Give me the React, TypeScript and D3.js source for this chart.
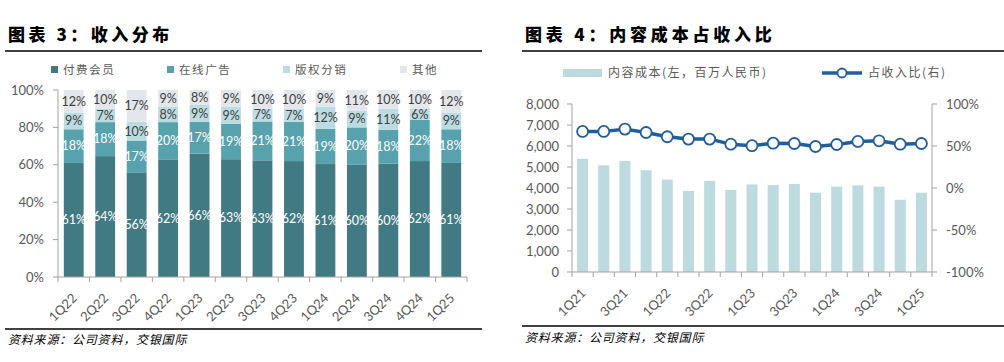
import React from "react";
import * as d3 from "d3";

// 图表3 收入分布
const quartersL = ["1Q22", "2Q22", "3Q22", "4Q22", "1Q23", "2Q23", "3Q23", "4Q23", "1Q24", "2Q24", "3Q24", "4Q24", "1Q25"];
const paidMember = [61, 64, 56, 62, 66, 63, 63, 62, 61, 60, 60, 62, 61];
const onlineAds = [18, 18, 17, 20, 17, 19, 21, 21, 19, 20, 18, 22, 18];
const copyright = [9, 7, 10, 8, 9, 9, 7, 7, 12, 9, 11, 6, 9];
const others = [12, 10, 17, 9, 8, 9, 10, 10, 9, 11, 10, 10, 12];
const seriesNamesL = ["付费会员", "在线广告", "版权分销", "其他"];
const pctTicks = [0, 0.2, 0.4, 0.6, 0.8, 1];

// 图表4 内容成本占收入比
const quartersR = ["1Q21", "2Q21", "3Q21", "4Q21", "1Q22", "2Q22", "3Q22", "4Q22", "1Q23", "2Q23", "3Q23", "4Q23", "1Q24", "2Q24", "3Q24", "4Q24", "1Q25"];
const contentCost = [5390, 5080, 5290, 4845, 4400, 3860, 4335, 3905, 4170, 4145, 4190, 3775, 4065, 4125, 4065, 3440, 3775];
const costRatio = [67.3, 67.3, 70.1, 66.1, 61.0, 58.2, 58.2, 52.2, 50.4, 53.4, 53.0, 49.4, 51.8, 55.4, 56.2, 52.2, 53.0];
const costTicks = [0, 1000, 2000, 3000, 4000, 5000, 6000, 7000, 8000];
const ratioTicks = [-100, -50, 0, 50, 100];

const colorsL = ["#427A84", "#58A2AE", "#BBDCE1", "#E3E6EB"];
const labelColorsL = ["#FFFFFF", "#FFFFFF", "#404040", "#404040"];
const barColorR = "#BDDADE";
const lineColorR = "#215E9C";
const axisColor = "#A3A3A3";
const tickText = "#595959";
const cjk = "'Noto Sans CJK SC', sans-serif";
const num = "Lato, 'Noto Sans CJK SC', sans-serif";

const LeftChart: React.FC = () => {
  const x = d3.scaleBand<string>().domain(quartersL).range([58, 467]).paddingInner(0.37).paddingOuter(0.185);
  const y = d3.scaleLinear().domain([0, 1]).range([277, 90]);
  const rows = quartersL.map((q, i) => ({
    q,
    s0: paidMember[i],
    s1: onlineAds[i],
    s2: copyright[i],
    s3: others[i],
  }));
  const keys = ["s0", "s1", "s2", "s3"];
  const stacked = d3.stack<any>().keys(keys).offset(d3.stackOffsetExpand)(rows);
  const step = x.step();
  const boundaries = d3.range(quartersL.length + 1).map((i) => 58 + i * step);
  const legendX = [51, 167, 283, 400];

  return (
    <g>
      <text x={8} y={41} fontFamily={cjk} fontWeight={900} fontSize={17} letterSpacing={3.5} fill="#000">
        图表 3：收入分布
      </text>
      <line x1={5} x2={482} y1={51} y2={51} stroke="#000" strokeWidth={1.6} />

      {seriesNamesL.map((name, i) => (
        <g key={name}>
          <rect x={legendX[i]} y={66} width={7} height={7} fill={colorsL[i]} />
          <text x={legendX[i] + 12} y={74} fontFamily={cjk} fontSize={11.5} letterSpacing={1.6} fill={tickText}>
            {name}
          </text>
        </g>
      ))}

      {stacked.map((layer, li) => (
        <g key={layer.key}>
          {layer.map((d, i) => {
            const y0 = y(Math.min(d[1], 1));
            const y1 = y(d[0]);
            return (
              <g key={i}>
                <rect x={x(quartersL[i])} y={y0} width={x.bandwidth()} height={Math.max(0, y1 - y0)} fill={colorsL[li]} />
                <text
                  x={(x(quartersL[i]) as number) + x.bandwidth() / 2}
                  y={(y0 + y1) / 2}
                  dy="0.35em"
                  textAnchor="middle"
                  fontFamily={num}
                  fontSize={12.5}
                  fill={labelColorsL[li]}
                >
                  {`${(rows[i] as any)[layer.key]}%`}
                </text>
              </g>
            );
          })}
        </g>
      ))}

      {/* y axis */}
      <line x1={58} x2={58} y1={90} y2={277} stroke={axisColor} />
      {pctTicks.map((t) => (
        <g key={t}>
          <line x1={53} x2={58} y1={y(t)} y2={y(t)} stroke={axisColor} />
          <text x={44} y={y(t)} dy="0.35em" textAnchor="end" fontFamily={num} fontSize={13} fill={tickText}>
            {`${Math.round(t * 100)}%`}
          </text>
        </g>
      ))}

      {/* x axis */}
      <line x1={58} x2={467} y1={277} y2={277} stroke={axisColor} />
      {boundaries.map((b, i) => (
        <line key={i} x1={b} x2={b} y1={277} y2={282} stroke={axisColor} />
      ))}
      {quartersL.map((q) => {
        const cx = (x(q) as number) + x.bandwidth() / 2 + 4;
        return (
          <text
            key={q}
            transform={`translate(${cx},${299}) rotate(-45)`}
            textAnchor="end"
            fontFamily={num}
            fontSize={13}
            fill={tickText}
          >
            {q}
          </text>
        );
      })}

      <line x1={5} x2={482} y1={329} y2={329} stroke="#000" strokeWidth={1.6} />
      <text x={8} y={344} fontFamily={cjk} fontStyle="italic" fontSize={12} letterSpacing={0.8} fill="#000">
        资料来源：公司资料，交银国际
      </text>
    </g>
  );
};

const RightChart: React.FC = () => {
  const x = d3.scaleBand<string>().domain(quartersR).range([572, 932]).paddingInner(0.48).paddingOuter(0.24);
  const yL = d3.scaleLinear().domain([0, 8000]).range([272, 104]);
  const yR = d3.scaleLinear().domain([-100, 100]).range([272, 104]);
  const step = x.step();
  const boundaries = d3.range(quartersR.length + 1).map((i) => 572 + i * step);
  const cx = (q: string) => (x(q) as number) + x.bandwidth() / 2;
  const line = d3
    .line<number>()
    .x((_, i) => cx(quartersR[i]))
    .y((d) => yR(d));
  const fmt = d3.format(",");

  return (
    <g>
      <text x={525} y={41} fontFamily={cjk} fontWeight={900} fontSize={17} letterSpacing={3.8} fill="#000">
        图表 4：内容成本占收入比
      </text>
      <line x1={522} x2={1004} y1={51} y2={51} stroke="#000" strokeWidth={1.6} />

      {/* legend */}
      <rect x={563} y={69} width={39} height={8} fill={barColorR} />
      <text x={608} y={77} fontFamily={cjk} fontSize={12} letterSpacing={1.5} fill={tickText}>
        内容成本(左，百万人民币)
      </text>
      <line x1={822} x2={862} y1={73} y2={73} stroke={lineColorR} strokeWidth={3.5} />
      <circle cx={842} cy={73} r={4.5} fill="#fff" stroke={lineColorR} strokeWidth={1.8} />
      <text x={868} y={77} fontFamily={cjk} fontSize={12} letterSpacing={1.5} fill={tickText}>
        占收入比(右)
      </text>

      {contentCost.map((v, i) => (
        <rect key={i} x={x(quartersR[i])} y={yL(v)} width={x.bandwidth()} height={yL(0) - yL(v)} fill={barColorR} />
      ))}

      <path d={line(costRatio) || ""} fill="none" stroke={lineColorR} strokeWidth={3.5} strokeLinejoin="round" />
      {costRatio.map((v, i) => (
        <circle key={i} cx={cx(quartersR[i])} cy={yR(v)} r={5.5} fill="#fff" stroke={lineColorR} strokeWidth={1.8} />
      ))}

      {/* left axis */}
      <line x1={572} x2={572} y1={104} y2={272} stroke={axisColor} />
      {costTicks.map((t) => (
        <g key={t}>
          <line x1={567} x2={572} y1={yL(t)} y2={yL(t)} stroke={axisColor} />
          <text x={559} y={yL(t)} dy="0.35em" textAnchor="end" fontFamily={num} fontSize={13} fill={tickText}>
            {fmt(t)}
          </text>
        </g>
      ))}

      {/* right axis */}
      <line x1={932} x2={932} y1={104} y2={272} stroke={axisColor} />
      {ratioTicks.map((t) => (
        <g key={t}>
          <line x1={932} x2={937} y1={yR(t)} y2={yR(t)} stroke={axisColor} />
          <text x={946} y={yR(t)} dy="0.35em" textAnchor="start" fontFamily={num} fontSize={13} fill={tickText}>
            {`${t}%`}
          </text>
        </g>
      ))}

      {/* x axis */}
      <line x1={572} x2={932} y1={272} y2={272} stroke={axisColor} />
      {boundaries.map((b, i) => (
        <line key={i} x1={b} x2={b} y1={272} y2={277} stroke={axisColor} />
      ))}
      {quartersR.map((q, i) =>
        i % 2 === 0 ? (
          <text
            key={q}
            transform={`translate(${cx(q) + 4},${294}) rotate(-45)`}
            textAnchor="end"
            fontFamily={num}
            fontSize={13}
            fill={tickText}
          >
            {q}
          </text>
        ) : null
      )}

      <line x1={522} x2={1004} y1={326} y2={326} stroke="#000" strokeWidth={1.6} />
      <text x={525} y={342} fontFamily={cjk} fontStyle="italic" fontSize={12} letterSpacing={0.8} fill="#000">
        资料来源：公司资料，交银国际
      </text>
    </g>
  );
};

const App: React.FC = () => {
  return (
    <div style={{ position: "absolute", left: 0, top: 0, width: 1004, height: 362, background: "#fff" }}>
      <svg width={1004} height={362} style={{ display: "block" }}>
        <rect width={1004} height={362} fill="#fff" />
        <LeftChart />
        <RightChart />
      </svg>
    </div>
  );
};

export default App;
